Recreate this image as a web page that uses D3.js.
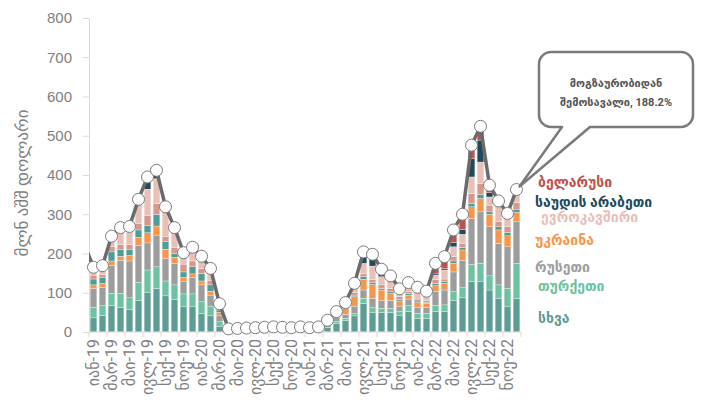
<!DOCTYPE html>
<html>
<head>
<meta charset="utf-8">
<script src="https://cdn.jsdelivr.net/npm/d3@7"></script>
<style>
  html, body { margin: 0; padding: 0; background: #fff; }
  svg { display: block; font-family: Roboto, "DejaVu Sans", sans-serif; }
</style>
</head>
<body>
<svg id="chart" width="701" height="403"></svg>
<script>
// Monthly labels, Jan 2019 – Dec 2022
const monthNames = ["იან", "თებ", "მარ", "აპრ", "მაი", "ივნ", "ივლ", "აგვ", "სექ", "ოქტ", "ნოე", "დეკ"];
const years = ["19", "20", "21", "22"];
const months = years.flatMap(y => monthNames.map(m => `${m}-${y}`));

// Series values, mln USD (bottom → top of each stack)
const other   = [36,42,67,62,58,80,100,111,92,83,64,64, 48,41,14,3,3,4,4,4,5,4,4,5, 4,5,12,22,29,41,73,49,50,50,43,52, 35,35,52,52,81,87,128,128,107,86,64,86];
const turkey  = [27,25,31,36,29,46,58,55,38,37,33,33, 29,25,12,1,1,1,1,1,1,1,1,1, 1,1,4,5,6,6,13,13,10,10,9,15, 12,12,16,17,22,26,44,47,36,34,47,89];
const russia  = [48,47,72,85,94,95,69,79,57,55,31,41, 43,28,15,2,2,2,3,3,3,3,3,3, 3,3,5,10,10,19,21,24,20,20,14,17, 15,15,36,38,50,70,117,131,125,106,106,106];
const ukraine = [9,10,11,10,14,20,26,25,24,15,11,10, 10,10,9,0.5,1,1,1,1,1,1,1,1, 1,1,3,8,14,24,27,35,27,18,13,10, 13,11,14,17,22,26,30,34,32,34,28,24];
const seriesF = [15,14,23,18,16,19,18,30,19,10,14,18, 19,16,6,0.5,0.5,0.5,0.5,1,1,1,0.5,1, 0.5,1,1,1,2,4,7,5,4,6,4,4, 4,2,5,4,6,6,8,10,6,8,9,8];
const seriesG = [10,9,13,12,12,17,25,27,14,15,20,15, 13,12,4,0.5,0.5,0.5,0.5,1,1,1,0.5,1, 0.5,1,1,1,3,7,7,8,9,7,7,6, 5,5,10,7,11,11,26,28,17,13,14,17];
const eu      = [20,22,27,43,46,58,68,64,71,49,29,35, 31,30,10,0.5,1,1,1,1,1,1,1,1, 1,1,4,5,11,23,27,34,21,28,20,22, 30,20,12,23,25,23,42,55,21,40,34,33];
const saudi   = [0,0,0,0,0,3,31,21,4,2,0,0, 0,0,0,0,0,0,0,0,0,0,0,0, 0,0,0,0,0,0,29,30,19,4,0,0, 0,0,3,4,11,12,47,56,11,3,0,0];
const belarus = [0,0,0,0,0,0,0,0,0,0,0,0, 0,0,2,0,0,0,0,0,0,0,0,0, 0,0,0,0,0,0,0,0,0,0,0,0, 0,4,27,30,32,39,34,35,19,10,0,0];
const totalBefore = 222; // Dec-18 total, only the line's entry segment is shown

const yTicks = [0, 100, 200, 300, 400, 500, 600, 700, 800];

const seriesDefs = [
  { key: "other",   values: other,   color: "#5e9d96", label: "სხვა" },
  { key: "turkey",  values: turkey,  color: "#6dc2a1", label: "თურქეთი" },
  { key: "russia",  values: russia,  color: "#9d9d9e", label: "რუსეთი" },
  { key: "ukraine", values: ukraine, color: "#f7964a", label: "უკრაინა" },
  { key: "seriesF", values: seriesF, color: "#4f9c98", label: null },
  { key: "seriesG", values: seriesG, color: "#d8978b", label: null },
  { key: "eu",      values: eu,      color: "#e8c0b7", label: "ევროკავშირი" },
  { key: "saudi",   values: saudi,   color: "#1e4a5a", label: "საუდის არაბეთი" },
  { key: "belarus", values: belarus, color: "#c0504d", label: "ბელარუსი" }
];

const rows = months.map((m, i) => {
  const r = { month: m };
  seriesDefs.forEach(s => r[s.key] = s.values[i]);
  return r;
});
const totals = rows.map(r => d3.sum(seriesDefs, s => r[s.key]));

const svg = d3.select("#chart");
const margin = { top: 18, left: 89, bottom: 332, right: 521 };

const x = d3.scaleBand().domain(months).range([margin.left, margin.right]).paddingInner(0.25).paddingOuter(0.125);
const y = d3.scaleLinear().domain([0, 800]).range([margin.bottom, margin.top]);
const step = x.step();

const axisColor = "#d9d9d9";
const textGray = "#7f7f7f";

// Y axis
const yAxis = svg.append("g")
  .attr("transform", `translate(${margin.left},0)`)
  .call(d3.axisLeft(y).tickValues(yTicks).tickSize(6).tickSizeOuter(0).tickPadding(11));
yAxis.select(".domain").attr("stroke", axisColor);
yAxis.selectAll(".tick line").attr("stroke", axisColor);
yAxis.selectAll(".tick text")
  .attr("fill", textGray)
  .style("font-size", "15px");

svg.append("text")
  .attr("transform", `translate(22,${(y(0) + y(800)) / 2 + 8}) rotate(-90)`)
  .attr("text-anchor", "middle")
  .attr("dy", "0.35em")
  .attr("fill", textGray)
  .style("font-size", "17px")
  .text("მლნ აშშ დოლარი");

// Stacked bars
const stack = d3.stack().keys(seriesDefs.map(s => s.key));
const layers = stack(rows);
svg.append("g").selectAll("g")
  .data(layers)
  .join("g")
  .attr("fill", (d, i) => seriesDefs[i].color)
  .selectAll("rect")
  .data(d => d)
  .join("rect")
  .attr("x", d => x(d.data.month))
  .attr("width", x.bandwidth())
  .attr("y", d => y(d[1]))
  .attr("height", d => Math.max(0, y(d[0]) - y(d[1])))
  .attr("stroke", "#fff")
  .attr("stroke-width", 0.3);

// X axis
const xAxisG = svg.append("g").attr("transform", `translate(0,${margin.bottom})`);
xAxisG.append("line")
  .attr("x1", margin.left).attr("x2", margin.right)
  .attr("stroke", axisColor);
const tickCount = Math.floor(months.length / 2) + 1;
xAxisG.selectAll(".xtick")
  .data(d3.range(tickCount))
  .join("line")
  .attr("class", "xtick")
  .attr("x1", k => margin.left + k * 2 * step)
  .attr("x2", k => margin.left + k * 2 * step)
  .attr("y1", 0).attr("y2", 5)
  .attr("stroke", axisColor);
xAxisG.selectAll(".xlabel")
  .data(months.filter((m, i) => i % 2 === 0))
  .join("text")
  .attr("class", "xlabel")
  .attr("transform", m => `translate(${x(m) + x.bandwidth() / 2},0) rotate(-90)`)
  .attr("x", -7)
  .attr("dy", "0.35em")
  .attr("text-anchor", "end")
  .attr("fill", textGray)
  .style("font-size", "16px")
  .text(m => m);

// Total line with markers
svg.append("clipPath").attr("id", "plotClip")
  .append("rect").attr("x", margin.left).attr("y", 0).attr("width", 701 - margin.left).attr("height", 403);

const cx = i => x(months[0]) + x.bandwidth() / 2 + i * step;
const linePts = [[cx(-1), totalBefore]].concat(totals.map((t, i) => [cx(i), t]));
svg.append("path")
  .datum(linePts)
  .attr("clip-path", "url(#plotClip)")
  .attr("fill", "none")
  .attr("stroke", "#6b6b6b")
  .attr("stroke-width", 3.5)
  .attr("stroke-linejoin", "round")
  .attr("d", d3.line().x(d => d[0]).y(d => y(d[1])));

svg.append("g").selectAll("circle")
  .data(totals)
  .join("circle")
  .attr("cx", (d, i) => cx(i))
  .attr("cy", d => y(d))
  .attr("r", 6)
  .attr("fill", "#fff")
  .attr("stroke", "#7a7a7a")
  .attr("stroke-width", 1);

// Callout pointing at the last month
const lastX = cx(months.length - 1), lastY = y(totals[totals.length - 1]);
const bx0 = 539, bx1 = 693, by0 = 52, by1 = 127, rr = 12;
const tailA = 562, tailB = 590;
const callout = d3.path();
callout.moveTo(bx0 + rr, by0);
callout.lineTo(bx1 - rr, by0);
callout.arcTo(bx1, by0, bx1, by0 + rr, rr);
callout.lineTo(bx1, by1 - rr);
callout.arcTo(bx1, by1, bx1 - rr, by1, rr);
callout.lineTo(tailB, by1);
callout.lineTo(lastX + 3, lastY - 3);
callout.lineTo(tailA, by1);
callout.lineTo(bx0 + rr, by1);
callout.arcTo(bx0, by1, bx0, by1 - rr, rr);
callout.lineTo(bx0, by0 + rr);
callout.arcTo(bx0, by0, bx0 + rr, by0, rr);
callout.closePath();
svg.append("path")
  .attr("d", callout.toString())
  .attr("fill", "#fff")
  .attr("stroke", "#7a7a7a")
  .attr("stroke-width", 2.5)
  .attr("stroke-linejoin", "round");

const calloutText = svg.append("text")
  .attr("x", (bx0 + bx1) / 2)
  .attr("text-anchor", "middle")
  .attr("fill", "#555")
  .style("font-size", "11px")
  .style("font-weight", "bold");
calloutText.append("tspan").attr("x", (bx0 + bx1) / 2).attr("y", 87).text("მოგზაურობიდან");
calloutText.append("tspan").attr("x", (bx0 + bx1) / 2).attr("y", 106).text("შემოსავალი, 188.2%");

// Series labels beside the last bar (anchored at value levels on the y scale)
const labelPos = { belarus: [538, 382], saudi: [535, 332], eu: [541, 292], ukraine: [535, 234], russia: [535, 166], turkey: [538, 118], other: [538, 36] };
svg.append("g").selectAll("text")
  .data(seriesDefs.filter(s => s.label))
  .join("text")
  .attr("x", s => labelPos[s.key][0])
  .attr("y", s => y(labelPos[s.key][1]))
  .attr("dy", "0.35em")
  .attr("fill", s => s.color)
  .style("font-size", "14px")
  .style("font-weight", "bold")
  .text(s => s.label);
</script>
</body>
</html>
